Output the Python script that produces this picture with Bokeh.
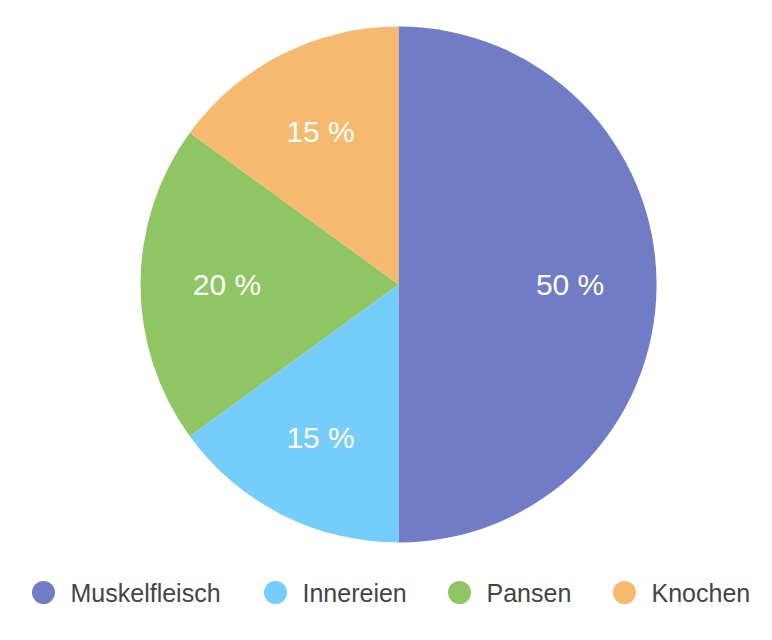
import math
from bokeh.plotting import figure
from bokeh.models import Range1d, ColumnDataSource
from bokeh.core.properties import value
from bokeh.embed import file_html
from bokeh.resources import INLINE

categories = ["Muskelfleisch", "Innereien", "Pansen", "Knochen"]
shares = [50, 15, 20, 15]
colors = ["#717CC7", "#75CDFB", "#8FC562", "#F5B96F"]
label_texts = [f"{s} %" for s in shares]

W, H = 756, 620
p = figure(width=W, height=H, output_backend="svg", toolbar_location=None,
           x_range=Range1d(0, W), y_range=Range1d(0, H), min_border=0)
p.axis.visible = False
p.grid.visible = False
p.outline_line_color = None
p.background_fill_color = "white"

cx, cy, r = 398, H - 284, 258
total = sum(shares)
starts, ends, lx, ly = [], [], [], []
cum = 0
for s in shares:
    a0 = math.pi / 2 - 2 * math.pi * cum / total
    a1 = math.pi / 2 - 2 * math.pi * (cum + s) / total
    starts.append(a0)
    ends.append(a1)
    mid = (a0 + a1) / 2
    lx.append(cx + 0.665 * r * math.cos(mid))
    ly.append(cy + 0.665 * r * math.sin(mid))
    cum += s

src = ColumnDataSource(dict(start=starts, end=ends, color=colors, lx=lx, ly=ly, t=label_texts))
p.wedge(x=cx, y=cy, radius=r, start_angle="start", end_angle="end", direction="clock",
        fill_color="color", line_color=None, source=src)
p.text(x="lx", y="ly", text="t", source=src, text_color="white", text_font=value("Liberation Sans"),
       text_font_size="30px", text_align="center", text_baseline="middle")

# legend
leg_y = H - 592
marker_x = [43, 275, 459, 624]
leg_src = ColumnDataSource(dict(mx=marker_x, tx=[m + 27 for m in marker_x], y=[leg_y] * 4,
                                color=colors, name=categories))
p.scatter(x="mx", y="y", size=23, marker="circle", fill_color="color", line_color=None, source=leg_src)
p.text(x="tx", y="y", text="name", source=leg_src, text_color="#444444",
       text_font=value("Liberation Sans"), text_font_size="25px", text_align="left",
       text_baseline="middle")

open("out.html", "w").write(file_html(p, INLINE))
